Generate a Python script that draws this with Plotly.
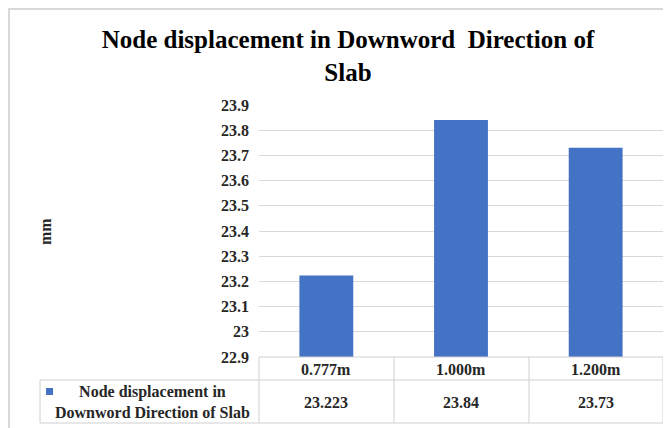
import plotly.graph_objects as go

# Chart data
categories = ["0.777m", "1.000m", "1.200m"]
values = [23.223, 23.84, 23.73]
value_labels = ["23.223", "23.84", "23.73"]
series_name = "Node displacement in Downword Direction of Slab"
y_ticks = [22.9, 23.0, 23.1, 23.2, 23.3, 23.4, 23.5, 23.6, 23.7, 23.8, 23.9]
y_tick_labels = ["22.9", "23", "23.1", "23.2", "23.3", "23.4", "23.5", "23.6", "23.7", "23.8", "23.9"]

# the page body has an 8px margin, so the figure is 8px smaller
OFF = 8
W, H = 671 - OFF, 428 - OFF
L, R, T, B = 259 - OFF, 8, 105 - OFF, 71
PW, PH = W - L - R, H - T - B
FONT = "Liberation Serif, Times New Roman, serif"
BLUE = "#4472C4"
GRID = "#d9d9d9"
TABLE = "#d0d0d0"
TXT = "#262626"


# page pixel -> paper coordinate
def px(x):
    return (x - OFF - L) / PW


def py(y):
    return (H - B - (y - OFF)) / PH


fig = go.Figure()
fig.add_trace(go.Bar(x=categories, y=values, name=series_name,
                     marker=dict(color=BLUE, line=dict(width=0))))

line_style = dict(color=TABLE, width=1)
shapes = []
# outer chart frame
shapes.append(dict(type="rect", xref="paper", yref="paper",
                   x0=px(9), x1=px(700), y0=py(460), y1=py(9),
                   line=dict(color="#d9d9d9", width=2)))
# data table lines
for xe in [259, 394, 529, 663]:
    shapes.append(dict(type="line", xref="paper", yref="paper",
                       x0=px(xe), x1=px(xe), y0=py(357), y1=py(423),
                       line=line_style))
shapes.append(dict(type="line", xref="paper", yref="paper",
                   x0=px(259), x1=px(663), y0=py(357), y1=py(357),
                   line=line_style))
for ye in [380, 423]:
    shapes.append(dict(type="line", xref="paper", yref="paper",
                       x0=px(40), x1=px(663), y0=py(ye), y1=py(ye),
                       line=line_style))
shapes.append(dict(type="line", xref="paper", yref="paper",
                   x0=px(40), x1=px(40), y0=py(380), y1=py(423),
                   line=line_style))
# legend key
shapes.append(dict(type="rect", xref="paper", yref="paper",
                   x0=px(46), x1=px(53), y0=py(395), y1=py(388),
                   fillcolor=BLUE, line=dict(width=0)))

table_font = dict(family=FONT, size=16, color=TXT)
annotations = []
for cat, lab in zip(categories, value_labels):
    annotations.append(dict(x=cat, xref="x", y=py(369), yref="paper",
                            xanchor="center", yanchor="middle",
                            text="<b>%s</b>" % cat, showarrow=False,
                            font=table_font))
    annotations.append(dict(x=cat, xref="x", y=py(402), yref="paper",
                            xanchor="center", yanchor="middle",
                            text="<b>%s</b>" % lab, showarrow=False,
                            font=table_font))
annotations.append(dict(x=px(152), xref="paper", y=py(402), yref="paper",
                        xanchor="center", yanchor="middle",
                        text="<b>Node displacement in<br>Downword Direction of Slab</b>",
                        showarrow=False, align="center", font=table_font))
annotations.append(dict(x=px(45), xref="paper", y=py(232), yref="paper",
                        xanchor="center", yanchor="middle",
                        text="<b>mm</b>", textangle=-90, showarrow=False,
                        font=dict(family=FONT, size=16, color=TXT)))

fig.update_layout(
    width=W, height=H,
    margin=dict(l=L, r=R, t=T, b=B),
    paper_bgcolor="white", plot_bgcolor="white",
    title=dict(text="<b>Node displacement in Downword&nbsp; Direction of<br>Slab</b>",
               x=(348 - OFF) / W, xanchor="center", y=1 - 40 / H, yanchor="top",
               font=dict(family=FONT, size=25, color="black")),
    showlegend=False,
    bargap=0.6,
    shapes=shapes,
    annotations=annotations,
)
fig.update_xaxes(showticklabels=False, showgrid=False, zeroline=False,
                 showline=False)
fig.update_yaxes(range=[22.9, 23.9], tickvals=y_ticks, ticktext=y_tick_labels,
                 showgrid=True, gridcolor=GRID, gridwidth=1, zeroline=False,
                 showline=False, ticks="", ticklabelstandoff=9,
                 tickfont=dict(family=FONT, size=16, color=TXT, weight="bold"))

fig.write_html("out.html")
